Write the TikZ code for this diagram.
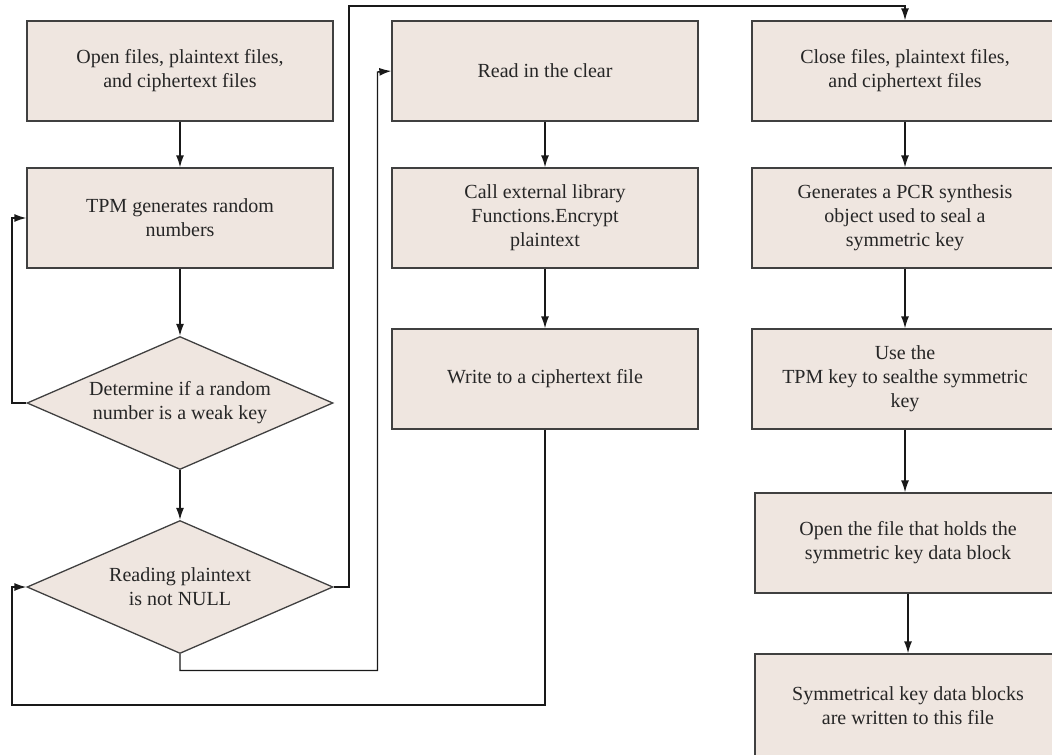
\documentclass[tikz,border=0pt]{standalone}
\usepackage{fontspec}
\setmainfont{Liberation Serif}
\usetikzlibrary{shapes.geometric, arrows.meta}
\definecolor{boxfill}{RGB}{239,230,224}
\definecolor{boxline}{RGB}{64,64,64}
\tikzset{
	every node/.style={font=\fontsize{10}{12}\selectfont,text=black!85,align=center},
	every edge/.style={line width=0.7pt,draw=black!90},
	box/.style={shape=rectangle,draw=boxline,line width=0.65pt,fill=boxfill,minimum width=153pt,minimum height=50pt,inner sep=0pt},
	test/.style={shape=diamond,draw=boxline,line width=0.65pt,fill=boxfill,minimum width=153pt,minimum height=66.5pt,aspect=2.3,inner sep=0pt},
}
\tikzstyle{link} = [line width=0.7pt,draw=black!90,->,>={Latex[length=6pt,width=4pt]}]

\begin{document}
\begin{tikzpicture}[x=0.5pt,y=-0.5pt]
						\useasboundingbox (0,0) rectangle (1052,754);
						\clip (0,0) rectangle (1052,754);

						\node[box] (open) at (180,71) {Open files, plaintext files,\\and ciphertext files};
						\node[box] (tpm) at (180,218) {TPM generates random\\numbers};
						\node[test] (weak) at (180,403) {Determine if a random\\number is a weak key};
						\node[test] (notnull) at (180,587) {Reading plaintext\\is not NULL};

						\node[box] (read) at (545,71) {Read in the clear};
						\node[box] (encrypt) at (545,218) {Call external library\\Functions.Encrypt\\plaintext};
						\node[box] (write) at (545,379) {Write to a ciphertext file};

						\node[box] (close) at (905,71) {Close files, plaintext files,\\and ciphertext files};
						\node[box] (pcr) at (905,218) {Generates a PCR synthesis\\object used to seal a\\symmetric key};
						\node[box] (seal) at (905,379) {Use the\\TPM key to sealthe symmetric\\key};
						\node[box] (openkey) at (908,543) {Open the file that holds the\\symmetric key data block};
						\node[box,minimum height=52pt] (writekey) at (908,706) {Symmetrical key data blocks\\are written to this file};

						\path [link] (open) edge (tpm);
						\path [link] (tpm) edge (weak);
						\path [link] (weak) edge (notnull);
						\draw [link] (weak.west) -- (12,403) |- (tpm.west);
						\draw [link] (notnull.east) -- (349,587) -- (349,6) -| (close.north);
						\draw [link] (notnull.south) -- (180,670.5) -| (377.5,72) -- (read.west);
						\draw [link] (write.south) -- (545,705) -| (12,587) -- (notnull.west);

						\path [link] (read) edge (encrypt);
						\path [link] (encrypt) edge (write);

						\path [link] (close) edge (pcr);
						\path [link] (pcr) edge (seal);
						\draw [link] (seal.south) -- (seal.south |- openkey.north);
						\path [link] (openkey) edge (writekey);
					\end{tikzpicture}
\end{document}
